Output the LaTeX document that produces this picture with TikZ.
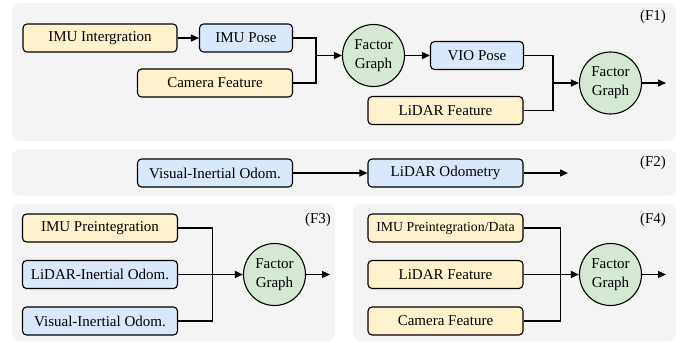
\documentclass[tikz,border=0pt]{standalone}
\usepackage{fontspec}
\setmainfont{Liberation Serif}
\usetikzlibrary{arrows.meta}

\definecolor{yfill}{HTML}{FFF2CC}
\definecolor{bfill}{HTML}{DAE8FC}
\definecolor{gfill}{HTML}{D5E8D4}
\definecolor{pfill}{HTML}{F4F4F4}

\tikzset{
    box/.style={draw,line width=1.1pt,rounded corners=4pt,minimum height=28pt,inner sep=0pt,font=\rmfamily\fontsize{15}{18}\selectfont},
    ybox/.style={box,fill=yfill},
    bbox/.style={box,fill=bfill},
    fgraph/.style={circle,draw,fill=gfill,line width=1.1pt,minimum size=62pt,inner sep=0pt,align=center,font=\rmfamily\fontsize{15}{19}\selectfont},
    conn/.style={line width=1.3pt},
    arr/.style={conn,-{Triangle[length=8pt,width=7pt]}},
    panel/.style={fill=pfill,rounded corners=8pt},
    tag/.style={font=\rmfamily\fontsize{15}{18}\selectfont}
}

\begin{document}
\begin{tikzpicture}[x=1pt,y=-1pt]
    \useasboundingbox (0,0) rectangle (686,343);
    \fill[panel] (12,3) rectangle (676,141);
    \fill[panel] (12,149) rectangle (676,195.5);
    \fill[panel] (12,203.5) rectangle (335,341.5);
    \fill[panel] (353,203.5) rectangle (676,341.5);

    \node[ybox,minimum width=154pt] (A) at (100,38) {IMU Intergration};
    \node[bbox,minimum width=93pt] (B) at (246,38) {IMU Pose};
    \node[ybox,minimum width=155pt] (C) at (215,83) {Camera Feature};
    \node[fgraph] (D) at (373.5,55.5) {Factor\\Graph};
    \node[bbox,minimum width=93pt] (E) at (477,55.5) {VIO Pose};
    \node[ybox,minimum width=155pt] (F) at (445.5,110.5) {LiDAR Feature};
    \node[fgraph] (G) at (610.5,83) {Factor\\Graph};
    \node[tag] (T1) at (653,17) {(F1)};
    \coordinate (j1) at (316,55.5);
    \coordinate (j2) at (553,83);
    \coordinate (o1) at (666,83);
    \draw[arr] (A) -- (B);
    \draw[conn] (B.east) -- (B.east -| j1) |- (C.east);
    \draw[arr] (j1) -- (D);
    \draw[arr] (D) -- (E);
    \draw[conn] (E.east) -- (E.east -| j2) |- (F.east);
    \draw[arr] (j2) -- (G);
    \draw[arr] (G) -- (o1);

    \node[bbox,minimum width=155pt] (H) at (215,173) {Visual-Inertial Odom.};
    \node[bbox,minimum width=155pt] (I) at (445.5,173) {LiDAR Odometry};
    \node[tag] (T2) at (653,163) {(F2)};
    \coordinate (o2) at (568,173);
    \draw[arr] (H) -- (I);
    \draw[arr] (I) -- (o2);

    \node[ybox,minimum width=155pt] (J) at (100,228) {IMU Preintegration};
    \node[bbox,minimum width=155pt] (K) at (100,274.5) {LiDAR-Inertial Odom.};
    \node[bbox,minimum width=155pt] (L) at (100,321) {Visual-Inertial Odom.};
    \node[fgraph] (M) at (274.5,274.5) {Factor\\Graph};
    \node[tag] (T3) at (318,220) {(F3)};
    \coordinate (j3) at (212.5,274.5);
    \coordinate (o3) at (330,274.5);
    \draw[conn] (J.east) -- (J.east -| j3) |- (L.east);
    \draw[arr] (K) -- (M);
    \draw[arr] (M) -- (o3);

    \node[ybox,minimum width=155pt,font=\rmfamily\fontsize{13.8}{16}\selectfont] (N) at (445.5,228) {IMU Preintegration/Data};
    \node[ybox,minimum width=155pt] (O) at (445.5,274.5) {LiDAR Feature};
    \node[ybox,minimum width=155pt] (P) at (445.5,321) {Camera Feature};
    \node[fgraph] (Q) at (610.5,274.5) {Factor\\Graph};
    \node[tag] (T4) at (653,220) {(F4)};
    \coordinate (j4) at (560.5,274.5);
    \coordinate (o4) at (666,274.5);
    \draw[conn] (N.east) -- (N.east -| j4) |- (P.east);
    \draw[arr] (O) -- (Q);
    \draw[arr] (Q) -- (o4);
\end{tikzpicture}
\end{document}
